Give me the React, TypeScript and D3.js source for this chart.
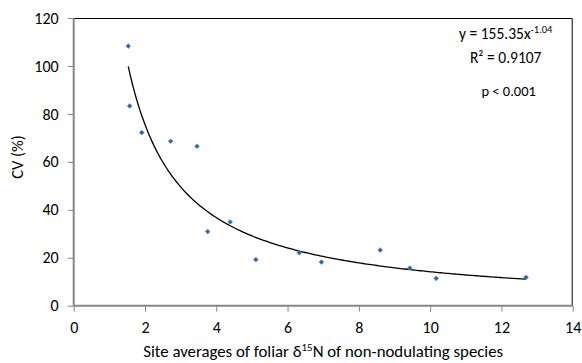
import { useEffect, useRef } from "react";
import * as d3 from "d3";

// site averages of foliar d15N (x) and CV % (y)
const siteD15N = [1.53, 1.57, 1.91, 2.72, 3.46, 3.76, 4.39, 5.11, 6.33, 6.95, 8.6, 9.43, 10.17, 12.69];
const cvValues = [108.3, 83.3, 72.2, 68.6, 66.5, 30.9, 34.9, 19.2, 22.1, 18.2, 23.2, 15.7, 11.4, 11.8];
const xTicks = [0, 2, 4, 6, 8, 10, 12, 14];
const yTicks = [0, 20, 40, 60, 80, 100, 120];
const fitA = 155.35;
const fitB = -1.04;

const FONT = "Carlito, Lato, 'Open Sans', sans-serif";

const App = () => {
    const chartRef = useRef<SVGSVGElement>(null);

    useEffect(() => {
        const W = 582, H = 363;
        const margin = { top: 18, right: 9.3, bottom: 57.3, left: 73.7 };
        const width = W - margin.left - margin.right;
        const height = H - margin.top - margin.bottom;

        const root = d3.select(chartRef.current);
        root.selectAll("*").remove();
        root.attr("width", W).attr("height", H);

        root.append("rect").attr("width", W).attr("height", H).attr("fill", "#fff");

        const svg = root.append("g")
            .attr("transform", `translate(${margin.left},${margin.top})`);

        const x = d3.scaleLinear().domain([0, 14]).range([0, width]);
        const y = d3.scaleLinear().domain([0, 120]).range([height, 0]);

        // plot area border (top and right)
        svg.append("path")
            .attr("d", `M0,0.5H${width - 0.5}V${height}`)
            .attr("fill", "none")
            .attr("stroke", "#000")
            .attr("stroke-width", 1);

        // y axis
        const yAxis = svg.append("g")
            .call(d3.axisLeft(y).tickValues(yTicks).tickSize(6).tickPadding(9).tickFormat(d3.format("d")));
        yAxis.select(".domain").attr("d", `M0,${height}V0`).attr("stroke", "#868686").attr("stroke-width", 2);
        yAxis.selectAll(".tick line").attr("stroke", "#868686");
        yAxis.selectAll(".tick text")
            .attr("fill", "#000")
            .style("font-family", FONT)
            .style("font-size", "16px");

        // x axis
        const xAxis = svg.append("g")
            .attr("transform", `translate(0,${height})`)
            .call(d3.axisBottom(x).tickValues(xTicks).tickSize(6).tickPadding(10).tickFormat(d3.format("d")));
        xAxis.select(".domain").attr("d", `M0,0H${width}`).attr("stroke", "#868686").attr("stroke-width", 2);
        xAxis.selectAll(".tick line").attr("stroke", "#868686");
        xAxis.selectAll(".tick text")
            .attr("fill", "#000")
            .style("font-family", FONT)
            .style("font-size", "16px");

        // power trend line
        const xMin = siteD15N[0];
        const xMax = d3.max(siteD15N)!;
        const xs = d3.range(0, 201).map(i => xMin + (i / 200) * (xMax - xMin));
        const line = d3.line<number>()
            .x(d => x(d))
            .y(d => y(fitA * Math.pow(d, fitB)));
        svg.append("path")
            .datum(xs)
            .attr("d", line)
            .attr("fill", "none")
            .attr("stroke", "#000")
            .attr("stroke-width", 1.3);

        // points
        const marker = d3.symbol().type(d3.symbolSquare).size(11);
        svg.selectAll(".pt")
            .data(siteD15N.map((v, i) => ({ x: v, y: cvValues[i] })))
            .enter()
            .append("path")
            .attr("class", "pt")
            .attr("d", marker)
            .attr("transform", d => `translate(${x(d.x)},${y(d.y)}) rotate(45)`)
            .attr("fill", "#2f5f9e")
            .attr("stroke", "#5b8fd0")
            .attr("stroke-width", 0.8);

        // annotations
        const ann = svg.append("g")
            .style("font-family", FONT)
            .style("font-size", "15.5px")
            .attr("fill", "#000");
        const eq = ann.append("text")
            .attr("x", 432)
            .attr("y", 21)
            .attr("text-anchor", "middle");
        eq.append("tspan").text(`y = ${fitA}x`);
        eq.append("tspan").attr("dy", -6).style("font-size", "10.5px").text(`${fitB}`);
        ann.append("text")
            .attr("x", 432)
            .attr("y", 45)
            .attr("text-anchor", "middle")
            .text("R² = 0.9107");
        ann.append("text")
            .attr("x", 435)
            .attr("y", 78)
            .attr("text-anchor", "middle")
            .style("font-size", "14.5px")
            .text("p < 0.001");

        // axis titles
        const xt = root.append("text")
            .attr("x", margin.left + width / 2)
            .attr("y", 357)
            .attr("text-anchor", "middle")
            .style("font-family", FONT)
            .style("font-size", "16.8px");
        xt.append("tspan").text("Site averages of foliar δ");
        xt.append("tspan").attr("dy", -6).style("font-size", "11px").text("15");
        xt.append("tspan").attr("dy", 6).text("N of non-nodulating species");

        root.append("text")
            .attr("transform", `translate(23,157) rotate(-90)`)
            .attr("text-anchor", "middle")
            .style("font-family", FONT)
            .style("font-size", "16.5px")
            .text("CV (%)");

        return () => {
            d3.select(chartRef.current).selectAll("*").remove();
        };
    }, []);

    return <svg ref={chartRef} style={{ position: "absolute", left: 0, top: 0, display: "block" }}></svg>;
};

export default App;
